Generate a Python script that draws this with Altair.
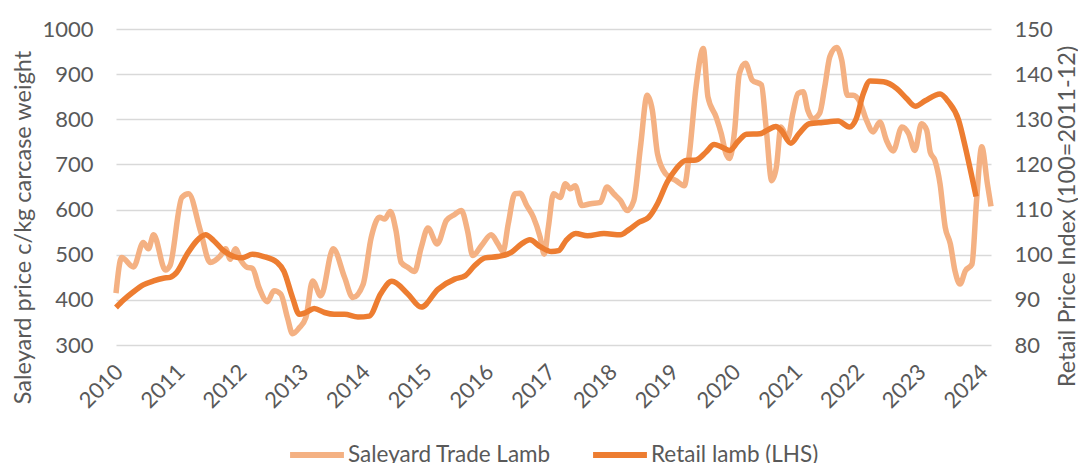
import altair as alt
import pandas as pd

# Month offsets from Jan 2010 and values
saleyard_m = [0, 1.1, 3.4, 5.3, 6.3, 7.3, 9.6, 10.5, 12.8, 14.1, 16.4, 18.3, 20.3, 21.3, 22.2, 23.2,
              24.3, 25.5, 26.5, 27.8, 29.4, 30.7, 32, 33.3, 34.3, 35.6, 36.9, 38.2, 39.8, 42.2, 44.4,
              46, 48, 49.6, 51.2, 52.2, 53.3, 54.4, 55.4, 56.7, 58, 59.3, 60.6, 62.4, 64.2, 65.8,
              67.1, 68.3, 69.3, 71, 72.9, 74.2, 75.2, 76.2, 77.5, 78.5, 79.8, 81.1, 82.4, 83.2, 84,
              85, 86.3, 87.3, 88.3, 89.2, 90.5, 92.2, 94.1, 95.4, 96.7, 98, 99.3, 100.6, 101.9, 103.2,
              104.2, 105.2, 106.8, 108.8, 110.4, 111.4, 112.7, 114.1, 115, 116.6, 117.6, 118.5, 119.2,
              120.2, 121.1, 122.3, 123.6, 125.4, 126.3, 127.4, 128.3, 129.2, 130.5, 131.5, 132.5,
              133.5, 134.4, 135.4, 136.7, 137.7, 138.7, 140, 141, 142.1, 143.2, 144.5, 145.8, 147.1,
              148.4, 149.7, 151, 152.7, 154, 155.2, 156.5, 157.5, 158.2, 159.1, 160.1, 161.1, 162.1,
              163, 164, 165, 166.3, 167.2, 168.2, 169.3, 170]
saleyard_v = [415, 494, 473, 527, 513, 544, 466, 476, 627, 635, 553, 483, 498, 513, 490, 513,
              487, 472, 470, 427, 396, 420, 413, 361, 325, 338, 361, 442, 409, 513, 450,
              405, 434, 539, 583, 579, 596, 553, 483, 472, 463, 516, 559, 524, 576, 589,
              598, 553, 498, 520, 544, 524, 507, 568, 635, 636, 609, 583, 539, 501, 561,
              635, 627, 657, 646, 653, 609, 613, 616, 650, 635, 620, 598, 620, 739, 853,
              820, 724, 679, 664, 653, 724, 872, 957, 850, 805, 768, 724, 713,
              776, 901, 924, 887, 876, 783, 664, 694, 783, 757, 813, 857,
              861, 820, 801, 813, 872, 939, 959, 931, 853, 853, 839, 798, 772,
              794, 753, 730, 783, 768, 731, 790, 776, 727, 709, 657, 561, 524,
              464, 435, 464, 479, 620, 739, 657, 607]

retail_m = [0, 1.4, 3.4, 5.3, 7.3, 9.2, 10.5, 11.8, 13.8, 15.7, 17.4, 19.0, 20.9, 22.9, 24.5,
            26.5, 28.7, 31.3, 32.6, 34.3, 35.6, 36.9, 38.5, 40.5, 42.4, 44.4, 47, 49.2, 51.4,
            53.6, 56.7, 59.3, 62.6, 65.8, 67.8, 69.7, 71.7, 74.2, 76.8, 78.8, 80.4, 82.4, 84.6,
            86, 87.4, 89.3, 91.6, 94.8, 98, 99.6, 101.6, 103.5, 105.2, 107.1, 108.8, 110.7, 112.7,
            114.6, 116.2, 117.6, 119.2, 120.8, 122.5, 125.1, 126.7, 128.2, 129.2, 131.1, 132.7,
            134.7, 137.3, 140.3, 142.5, 143.8, 145.2, 146.5, 149.1, 151.7, 153.6, 155.3, 157.2,
            160.1, 161.7, 163.7, 165, 166.3, 167.1]
retail_v = [88.3, 89.9, 91.8, 93.3, 94.2, 94.8, 95.0, 96.1, 100.1, 103.1, 104.4, 103.1, 100.9, 99.6, 99.3,
            100.1, 99.6, 98.3, 96.4, 90.5, 86.8, 87.2, 88.1, 87.2, 86.8, 86.8, 86.2, 86.4, 91.3,
            94.1, 91.3, 88.4, 92.4, 94.6, 95.3, 97.6, 99.3, 99.6, 100.5, 102.4, 103.3, 101.8, 100.7,
            100.9, 103.1, 104.7, 104.2, 104.7, 104.4, 105.5, 107.2, 108.3, 111.3, 116.1, 119.0, 120.9, 121.0,
            122.7, 124.4, 123.9, 123.1, 125.0, 126.7, 126.8, 127.7, 128.4, 127.6, 124.7, 126.8,
            129.0, 129.3, 129.6, 128.3, 130.1, 135.7, 138.5, 138.3, 136.8, 134.6, 132.9, 134.1,
            135.6, 133.9, 129.8, 123.9, 117.2, 112.9]

series_names = ["Saleyard Trade Lamb", "Retail lamb (LHS)"]
series_colors = ["#F4B183", "#ED7D31"]
year_ticks = list(range(2010, 2025))
left_ticks = list(range(300, 1001, 100))
right_ticks = list(range(80, 151, 10))

sale_df = pd.DataFrame({"year": [2010 + m / 12 for m in saleyard_m], "value": saleyard_v,
                        "series": series_names[0]})
ret_df = pd.DataFrame({"year": [2010 + m / 12 for m in retail_m], "value": retail_v,
                       "series": series_names[1]})

FONT = "Lato"
TXT = "#595959"
LFS = 22     # tick labels
TFS = 23.5   # axis titles
GFS = 22.5   # legend labels

x_enc = alt.X("year:Q",
              scale=alt.Scale(domain=[2010, 2010 + 170 / 12], nice=False, zero=False),
              axis=alt.Axis(values=year_ticks, format="d", title=None, grid=False, ticks=False,
                            domain=False, labelAngle=-45, labelAlign="right",
                            labelBaseline="middle", labelPadding=23, labelOffset=3,
                            labelFontSize=LFS, labelColor=TXT, labelFont=FONT,
                            labelOverlap=False))

color_enc = alt.Color("series:N",
                      scale=alt.Scale(domain=series_names, range=series_colors),
                      legend=alt.Legend(title=None, orient="none", legendX=171, legendY=396,
                                        direction="horizontal", symbolType="stroke",
                                        symbolStrokeWidth=6, symbolSize=2900, padding=0,
                                        labelFontSize=GFS, labelColor=TXT, labelFont=FONT,
                                        labelLimit=0, columnPadding=30, labelOffset=1))

sale = alt.Chart(sale_df).mark_line(strokeWidth=5.5, interpolate="monotone").encode(
    x=x_enc,
    y=alt.Y("value:Q", scale=alt.Scale(domain=[300, 1000], nice=False, zero=False),
            axis=alt.Axis(values=left_ticks, format="d", title="Saleyard price c/kg carcase weight",
                          orient="left", ticks=False, domain=False, tickSize=0,
                          labelPadding=23, labelFontSize=LFS, labelColor=TXT, labelFont=FONT,
                          titleFontSize=TFS, titleColor=TXT, titleFont=FONT,
                          titleFontWeight="normal", titleAngle=270, titleX=-93, titleY=198,
                          titleAlign="center", titleBaseline="middle",
                          grid=True, gridColor="#D9D9D9", gridWidth=1.5)),
    color=color_enc,
)

ret = alt.Chart(ret_df).mark_line(strokeWidth=5.5, interpolate="monotone").encode(
    x=x_enc,
    y=alt.Y("value:Q", scale=alt.Scale(domain=[80, 150], nice=False, zero=False),
            axis=alt.Axis(values=right_ticks, format="d", title="Retail Price Index (100=2011-12)",
                          orient="right", ticks=False, domain=False, tickSize=0,
                          labelPadding=23, labelFontSize=LFS, labelColor=TXT, labelFont=FONT,
                          titleFontSize=TFS, titleColor=TXT, titleFont=FONT,
                          titleFontWeight="normal", titleAngle=270, titleX=76, titleY=187,
                          titleAlign="center", titleBaseline="middle", grid=False)),
    color=color_enc,
)

chart = alt.layer(sale, ret).resolve_scale(y="independent").properties(
    width=875, height=316,
    autosize=alt.AutoSizeParams(type="none"),
    padding={"left": 108, "top": 21, "right": 87, "bottom": 118},
).configure_view(stroke=None)

chart.save("out.html", embed_options={"renderer": "svg", "actions": False})
